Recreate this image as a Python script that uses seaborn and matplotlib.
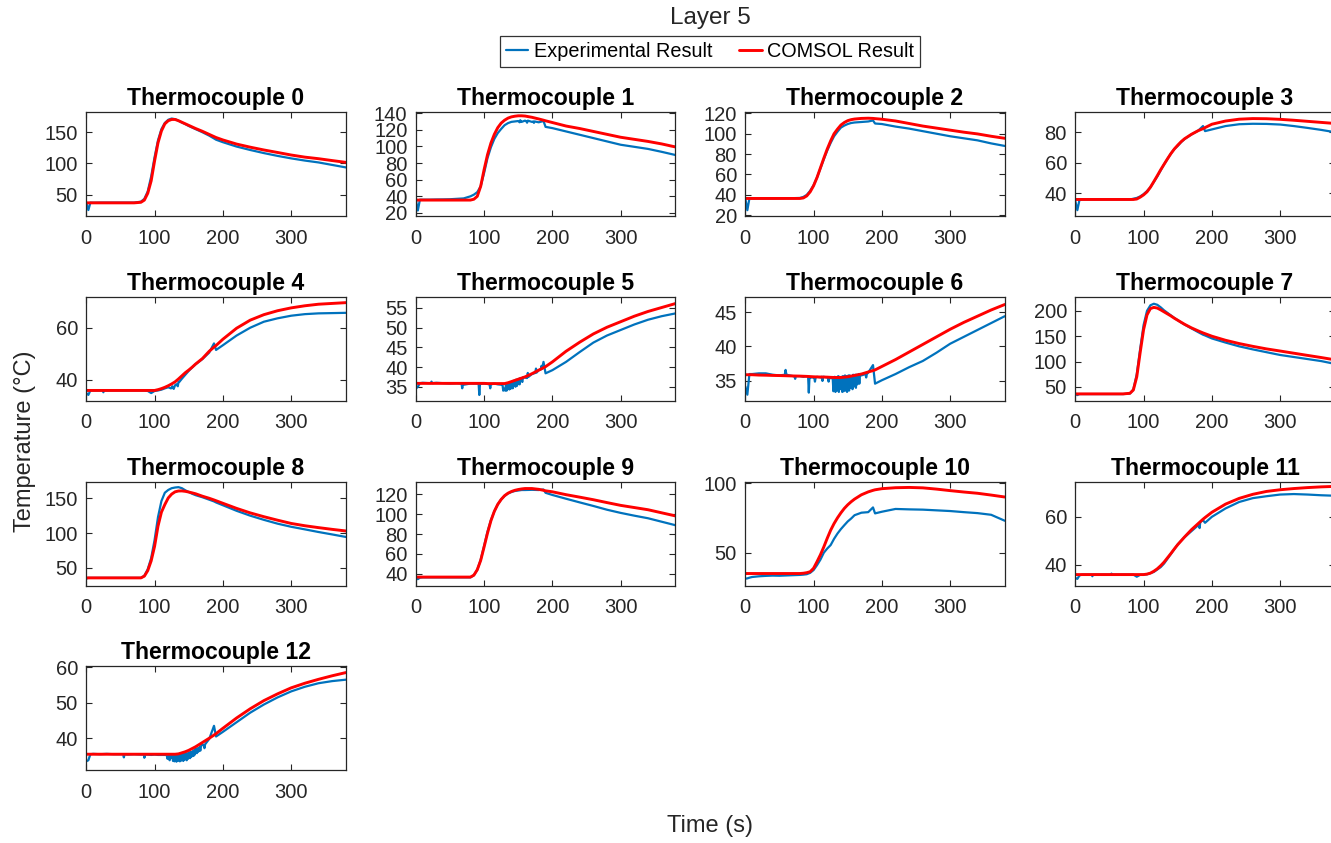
import numpy as np
import pandas as pd
import matplotlib
matplotlib.use("Agg")
import matplotlib.pyplot as plt
from matplotlib.ticker import MultipleLocator, FixedLocator
from matplotlib.lines import Line2D
import seaborn as sns

# Sample times (s) shared by every thermocouple record
time_s = [0, 3, 6, 10, 20, 30, 40, 50, 60, 70, 80, 85, 90, 95, 100, 105, 110, 115,
          120, 125, 130, 135, 140, 145, 150, 155, 160, 170, 180, 187, 190, 200, 220,
          240, 260, 280, 300, 320, 340, 360, 380]

# Measured temperatures (degC)
exp_tc0 = [37, 25, 37, 36.8, 37, 37, 37, 37, 37, 37, 38.5, 43, 55, 79, 110, 137, 155, 165,
           170, 172, 171, 168.5, 165.5, 163, 160, 157.5, 155, 150, 144.5, 140, 138, 134, 127,
           121.5, 116.5, 112, 108, 104.5, 101.5, 97.5, 93.5]
exp_tc1 = [36, 23, 36, 36, 36, 36.2, 36.3, 36.5, 37, 37.5, 40, 42, 45, 52, 68, 86, 99, 109,
           116, 121, 125.5, 128, 129.5, 130, 130.5, 129.5, 131, 129.5, 129, 130.5, 123.5, 122,
           118, 114, 110, 106, 102, 99.5, 97, 93.5, 89.7]
exp_tc2 = [36.5, 25, 36.5, 36.5, 36.5, 36.5, 36.5, 36.6, 36.7, 36.8, 37, 38, 40, 44, 49.5,
           57, 66, 75, 83.5, 91, 97.5, 102, 106, 108, 109.5, 110.5, 111, 111.5, 112, 113, 110,
           109.5, 107, 105, 102.5, 100, 97.5, 95.5, 93.5, 90.5, 88]
exp_tc3 = [35, 29, 35.5, 36, 36, 36, 36, 36, 36, 36, 36, 36.5, 37, 38, 39.5, 41.5, 44, 47.5,
           51, 55, 59, 62.5, 66, 69, 71, 73.5, 75.5, 78.5, 81, 84, 80.7, 81.8, 84, 85.2, 85.5,
           85.4, 85, 84, 82.8, 81.5, 80]
exp_tc4 = [35, 34.3, 36, 36, 36, 36, 36, 36, 36, 36, 36, 36, 35.8, 35, 35.8, 36, 36.3, 36.8,
           37.2, 37, 38, 39.3, 40.5, 42, 43.5, 44.8, 46, 48, 50.5, 54, 51.5, 53.3, 57, 60,
           62.3, 63.6, 64.6, 65.2, 65.5, 65.6, 65.7]
exp_tc5 = [34.5, 35, 35.9, 36, 35.9, 36, 35.9, 35.8, 35.9, 35.5, 35.8, 35.8, 35.8, 35.7,
           35.8, 35.7, 35.6, 35.8, 35.6, 35.5, 34.5, 35, 35.5, 36, 36.3, 36.6, 37.3, 38.2,
           39.2, 41.3, 38.4, 39.2, 41.3, 43.8, 46.2, 48, 49.4, 50.8, 52, 52.9, 53.6]
exp_tc6 = [34.2, 33, 36, 36, 36.1, 36.1, 35.9, 35.8, 36, 35.7, 35.7, 35.6, 35.7, 35.5, 35.5,
           35.6, 35.5, 35.6, 35.5, 35.4, 34.5, 34, 35, 34.5, 35, 34.5, 35.3, 35.8, 36.2, 37.3,
           34.6, 35.1, 36, 37, 37.9, 39.1, 40.4, 41.4, 42.4, 43.4, 44.4]
exp_tc7 = [36, 34, 36, 36, 36, 36, 36, 36, 36, 36, 37, 45, 75, 125, 172, 200, 211, 214, 212,
           207, 201, 196, 191, 186, 181.5, 177, 173, 165.5, 158, 153, 151.5, 145.6, 137.5,
           130, 124, 118.5, 113, 109, 105, 101, 95.5]
exp_tc8 = [34.5, 35.5, 35.5, 35.5, 35.5, 35.5, 35.5, 35.5, 35.5, 35.5, 35.5, 38.5, 48, 64,
           90, 123, 146, 158, 162, 164.5, 165.5, 166, 164.5, 161.5, 159, 156.5, 154.5, 151.5,
           148, 145.5, 144, 140, 132, 125, 119, 113.5, 109, 105.3, 101.5, 98, 94.4]
exp_tc9 = [35, 34.5, 36, 36.3, 36.3, 36.3, 36.3, 36.3, 36.3, 36.3, 36.3, 38.5, 44, 54, 68,
           82.5, 94, 103, 110, 115, 118.5, 121, 122.5, 123.5, 124, 124.5, 124.5, 124.7, 124.5,
           125, 121.7, 119.5, 115.7, 112, 108.4, 104.6, 101.4, 98.6, 96, 92.5, 89]
exp_tc10 = [31.3, 31.5, 32, 32.5, 33, 33.3, 33.5, 33.4, 33.6, 33.8, 34, 34.2, 34.5, 35.5,
            37.5, 41, 45, 50, 53, 55.5, 60, 63.8, 67, 69.8, 72.5, 74.6, 77, 78.8, 79.2, 82.6,
            78.3, 79.5, 81.5, 81.2, 81, 80.5, 80, 79.2, 78.5, 77.3, 73]
exp_tc11 = [34.5, 34.1, 35.5, 35.9, 35.9, 35.9, 35.9, 35.9, 35.9, 35.9, 35.9, 35.9, 35, 35.8,
            35.9, 36, 36.5, 37, 38, 39, 40.5, 42.5, 44.5, 46.5, 48.5, 50, 51.5, 54, 56.5,
            58.6, 57.5, 60, 63.5, 66.2, 67.8, 68.6, 69.3, 69.5, 69.3, 69, 68.8]
exp_tc12 = [33.5, 33.8, 35.5, 35.6, 35.5, 35.6, 35.5, 35.5, 35.4, 35.5, 35.4, 35.4, 35.4,
            35.3, 35.4, 35.3, 35.3, 35.3, 35.2, 35, 34.5, 34.2, 34.8, 35, 35.5, 36, 37, 38.3,
            39.8, 43.5, 40.5, 41.8, 44.5, 47.2, 49.5, 51.5, 53.2, 54.5, 55.5, 56.1, 56.5]

# Short glitches in the measured records (extra samples between the regular ones)
glitch_t_tc1 = [152, 153, 154, 162, 163, 164, 172, 173, 174]
glitch_v_tc1 = [129, 131.5, 129.5, 130, 128.5, 131, 130, 128.3, 130]
glitch_t_tc4 = [24, 25, 26, 124, 126, 128, 132, 134, 136]
glitch_v_tc4 = [36, 35.3, 36, 36.8, 37.6, 36.6, 38.4, 37.6, 39.2]
glitch_t_tc5 = [22, 23, 24, 67, 68, 69, 92, 93, 94, 108, 109, 110, 127, 128, 129, 131, 132,
                133, 134, 137, 138, 139, 141, 142, 143, 146, 147, 148, 151, 152, 153, 156,
                157, 163, 164, 165, 175, 176, 177, 183, 184, 185]
glitch_v_tc5 = [35.9, 36.3, 35.9, 35.8, 34.6, 35.8, 35.7, 32.9, 35.7, 35.6, 34.6, 35.6, 35.5,
                34, 34.2, 34, 35.6, 34, 35.8, 34.3, 36, 34.5, 36.2, 34.6, 36.5, 35, 36.8,
                35.2, 37, 35.6, 37.2, 36.2, 37.4, 37.2, 38.5, 37.5, 38.5, 39.6, 38.6, 39.4,
                40.3, 39.6]
glitch_t_tc6 = [58, 59, 60, 72, 73, 74, 92, 93, 94, 101, 102, 103, 112, 113, 114, 121, 122,
                123, 128, 129, 131, 132, 133, 134, 136, 137, 138, 139, 141, 142, 143, 144,
                146, 147, 148, 149, 151, 152, 153, 154, 156, 157, 158, 159, 161, 162, 163,
                164, 166, 167, 168, 176, 177, 178]
glitch_v_tc6 = [35.9, 36.6, 35.9, 35.7, 35.3, 35.7, 35.6, 33.3, 35.6, 35.5, 34.9, 35.5, 35.6,
                35, 35.6, 35.5, 34.9, 35.5, 35.4, 33.5, 35.6, 33.4, 35.5, 33.6, 35.7, 33.4,
                35.6, 33.8, 35.6, 33.4, 35.7, 33.5, 35.8, 33.6, 35.7, 33.4, 35.8, 33.6, 35.8,
                34, 35.7, 33.8, 35.9, 34.2, 35.9, 34, 35.9, 34.5, 36, 34.6, 36, 36, 35.5, 36]
glitch_t_tc11 = [24, 25, 26, 52, 53, 54, 181, 182, 183]
glitch_v_tc11 = [35.9, 35.2, 35.9, 35.9, 36.3, 35.9, 57, 55.3, 57.8]
glitch_t_tc12 = [54, 55, 56, 84, 85, 86, 118, 119, 121, 122, 123, 124, 126, 127, 128, 129,
                 131, 132, 133, 134, 136, 137, 138, 139, 141, 142, 143, 144, 146, 147, 148,
                 149, 151, 152, 153, 154, 156, 157, 158, 159, 161, 162, 163, 164, 166, 167,
                 168, 172, 173, 174]
glitch_v_tc12 = [35.5, 34.6, 35.5, 35.4, 34.5, 35.4, 35.2, 34.2, 35.2, 33.8, 35.2, 34.4,
                 35.1, 33.6, 35.2, 33.5, 35.3, 33.4, 35.2, 33.6, 35.3, 33.5, 35.4, 33.7,
                 35.5, 33.6, 35.6, 34, 35.7, 33.8, 35.8, 34.2, 36, 34.4, 36.2, 34.8, 36.4,
                 35, 36.7, 35.4, 37, 35.8, 37.2, 36.2, 37.5, 36.5, 37.8, 38, 37.2, 38.3]

# COMSOL simulation temperatures (degC)
sim_tc0 = [36.6, 36.6, 36.6, 36.6, 36.6, 36.6, 36.6, 36.6, 36.6, 36.6, 37.5, 41, 52, 72, 104,
           133, 152, 163.5, 168.5, 170.5, 170.5, 168.5, 166, 163.5, 161, 158.5, 156, 151.5,
           146.5, 143, 141.5, 137.6, 131, 126, 121.5, 117.5, 113.4, 110, 107.5, 104.5, 101.6]
sim_tc1 = [35.5, 35.5, 35.5, 35.5, 35.5, 35.5, 35.5, 35.5, 35.5, 35.5, 35.5, 36.5, 40, 52,
           72, 90, 104, 114.5, 122.5, 128, 131.5, 134, 135.5, 136.3, 136.8, 136.8, 136.5,
           135, 133, 131.5, 130.8, 128.7, 124.5, 121.5, 118, 114.5, 111, 108.5, 106, 103, 99.4]
sim_tc2 = [36.5, 36.5, 36.5, 36.5, 36.5, 36.5, 36.5, 36.5, 36.5, 36.5, 36.5, 37, 39, 43, 49,
           57, 66.5, 76, 85, 93, 100, 104.5, 108.5, 111, 112.8, 113.8, 114.4, 115, 115.2, 115,
           114.8, 114.2, 112.5, 110, 107.5, 105.5, 103.5, 101.5, 99.8, 97.5, 95.5]
sim_tc3 = [36, 36, 36, 36, 36, 36, 36, 36, 36, 36, 36, 36, 36.3, 37.5, 39, 41, 44, 47.7, 51.5,
           55.4, 59, 62.6, 66, 69, 71.5, 73.8, 75.7, 78.6, 81, 82.3, 83, 85.2, 87.3, 88.5,
           88.9, 88.8, 88.4, 87.8, 87.1, 86.4, 85.7]
sim_tc4 = [36, 36, 36, 36, 36, 36, 36, 36, 36, 36, 36, 36, 36, 36, 36, 36.3, 36.7, 37.2, 37.8,
           38.5, 39.3, 40.4, 41.6, 42.8, 43.8, 44.9, 46.1, 48.2, 51, 52.6, 53.2, 55.6, 59.8,
           62.9, 65, 66.5, 67.6, 68.4, 69, 69.3, 69.6]
sim_tc5 = [35.85, 35.85, 35.85, 35.85, 35.85, 35.85, 35.85, 35.85, 35.85, 35.85, 35.85,
           35.85, 35.85, 35.85, 35.85, 35.8, 35.8, 35.8, 35.8, 35.8, 35.8, 36, 36.3, 36.6,
           36.9, 37.2, 37.5, 38.3, 39.2, 39.8, 40.1, 41.3, 44, 46.3, 48.4, 50.1, 51.5, 52.9,
           54.1, 55.1, 56.1]
sim_tc6 = [35.9, 35.9, 35.9, 35.9, 35.85, 35.83, 35.8, 35.78, 35.75, 35.72, 35.7, 35.68,
           35.66, 35.63, 35.6, 35.58, 35.57, 35.56, 35.55, 35.52, 35.5, 35.5, 35.5, 35.55,
           35.6, 35.7, 35.8, 36, 36.3, 36.5, 36.6, 37.1, 38.1, 39.2, 40.3, 41.4, 42.5, 43.5,
           44.4, 45.3, 46.1]
sim_tc7 = [36.3, 36.3, 36.3, 36.3, 36.3, 36.3, 36.3, 36.3, 36.3, 36.3, 37.5, 44, 70, 118, 163,
           192, 204.5, 206.8, 205.5, 202, 198, 194, 190, 185.5, 181.5, 177.5, 173.5, 166.5,
           160.5, 156.5, 155, 150, 142, 135.5, 130, 125, 120.8, 116.5, 112.2, 108, 103.5]
sim_tc8 = [35.5, 35.5, 35.5, 35.5, 35.5, 35.5, 35.5, 35.5, 35.5, 35.5, 35.5, 38, 46, 60, 81,
           110, 130, 141, 150.5, 156, 159.3, 160.5, 160.6, 160, 159, 157.8, 156.5, 153, 150,
           147.6, 146.5, 142.8, 135.5, 129, 123.5, 118.5, 113.8, 110.5, 107.8, 105.3, 103]
sim_tc9 = [36.6, 36.6, 36.6, 36.6, 36.6, 36.6, 36.6, 36.6, 36.6, 36.6, 36.6, 38.5, 44, 53.4,
           67, 81, 93.5, 103, 110, 115, 118.8, 121.3, 123, 124.2, 125, 125.6, 126, 126, 125.2,
           124.2, 123.7, 122.7, 119.8, 117.3, 114.7, 111.8, 109, 106.8, 104.6, 101.5, 98.4]
sim_tc10 = [35, 35, 35, 35, 35, 35, 35, 35, 35, 35, 35, 35.2, 35.6, 36.3, 38.8, 43.5, 48.5,
            54.2, 60.4, 66.2, 71, 75.1, 78.7, 81.9, 84.5, 86.7, 88.6, 91.7, 93.8, 94.9, 95.3,
            96.1, 96.8, 97, 96.7, 95.8, 94.7, 93.7, 92.8, 91.5, 90.1]
sim_tc11 = [35.9, 35.9, 35.9, 35.9, 35.9, 35.9, 35.9, 35.9, 35.9, 35.9, 35.9, 35.9, 35.9,
            35.9, 35.9, 36.1, 36.5, 37.3, 38.3, 39.6, 41.1, 42.9, 44.7, 46.6, 48.4, 50, 51.6,
            54.6, 57.2, 59, 59.7, 61.9, 65.3, 67.7, 69.4, 70.6, 71.3, 71.8, 72.2, 72.5, 72.7]
sim_tc12 = [35.5, 35.5, 35.5, 35.5, 35.5, 35.5, 35.5, 35.5, 35.5, 35.5, 35.5, 35.5, 35.5,
            35.5, 35.5, 35.5, 35.5, 35.5, 35.5, 35.5, 35.5, 35.6, 35.9, 36.2, 36.6, 37.1,
            37.6, 38.8, 40, 40.9, 41.3, 42.8, 45.7, 48.3, 50.6, 52.5, 54.2, 55.5, 56.6, 57.6,
            58.5]

panel_titles = [f"Thermocouple {i}" for i in range(13)]
exp_series = [exp_tc0, exp_tc1, exp_tc2, exp_tc3, exp_tc4, exp_tc5, exp_tc6, exp_tc7,
              exp_tc8, exp_tc9, exp_tc10, exp_tc11, exp_tc12]
sim_series = [sim_tc0, sim_tc1, sim_tc2, sim_tc3, sim_tc4, sim_tc5, sim_tc6, sim_tc7,
              sim_tc8, sim_tc9, sim_tc10, sim_tc11, sim_tc12]
glitches = {1: (glitch_t_tc1, glitch_v_tc1), 4: (glitch_t_tc4, glitch_v_tc4),
            5: (glitch_t_tc5, glitch_v_tc5), 6: (glitch_t_tc6, glitch_v_tc6),
            11: (glitch_t_tc11, glitch_v_tc11), 12: (glitch_t_tc12, glitch_v_tc12)}

# Axis ranges and tick spacing for each panel
y_limits = [(15, 182), (16, 141), (19, 121), (25, 93), (32, 71.8), (31.4, 57.8),
            (32.1, 47.2), (22.5, 227.5), (24.4, 174), (28, 133), (26.3, 101.2),
            (31.3, 74.7), (31, 60.3)]
y_steps = [50, 20, 20, 20, 20, 5, 5, 50, 50, 20, 50, 20, 10]
x_ticks = [0, 100, 200, 300]

# ---- styling ----
sns.set_theme(style="white")
plt.rcParams["font.family"] = ["Liberation Sans", "DejaVu Sans"]
INK = "#262626"
BLUE = "#0072BD"
RED = "#FF0000"

W, H, DPI = 1331, 843, 100
fig = plt.figure(figsize=(W / DPI, H / DPI), dpi=DPI)
fig.patch.set_facecolor("white")

col_left = [86.3, 415.8, 745.3, 1075.3]
row_top = [112.3, 296.9, 481.6, 666.2]
ax_w, ax_h = 259.5, 104.0

for k in range(13):
    r, c = divmod(k, 4)
    rect = [col_left[c] / W, 1 - (row_top[r] + ax_h) / H, ax_w / W, ax_h / H]
    ax = fig.add_axes(rect)

    t_exp = np.asarray(time_s, dtype=float)
    v_exp = np.asarray(exp_series[k], dtype=float)
    if k in glitches:
        gt, gv = glitches[k]
        t_exp = np.concatenate([t_exp, gt])
        v_exp = np.concatenate([v_exp, gv])
        order = np.argsort(t_exp, kind="stable")
        t_exp, v_exp = t_exp[order], v_exp[order]
    df_exp = pd.DataFrame({"time": t_exp, "temp": v_exp})
    df_sim = pd.DataFrame({"time": time_s, "temp": sim_series[k]})

    sns.lineplot(data=df_exp, x="time", y="temp", ax=ax, color=BLUE, linewidth=1.6,
                 estimator=None, sort=False)
    sns.lineplot(data=df_sim, x="time", y="temp", ax=ax, color=RED, linewidth=2.1,
                 estimator=None, sort=False)

    ax.set_xlim(0, 380)
    ax.set_ylim(*y_limits[k])
    ax.xaxis.set_major_locator(FixedLocator(x_ticks))
    ax.yaxis.set_major_locator(MultipleLocator(y_steps[k]))
    ax.set_xlabel("")
    ax.set_ylabel("")
    ax.set_title(panel_titles[k], fontsize=16.6, fontweight="bold", color="black", pad=5)
    ax.tick_params(axis="both", which="major", direction="in", length=4, width=0.8,
                   colors=INK, labelsize=14.5, top=True, right=True, bottom=True, left=True)
    ax.tick_params(axis="x", pad=9)
    ax.tick_params(axis="y", pad=6)
    for sp in ax.spines.values():
        sp.set_visible(True)
        sp.set_color(INK)
        sp.set_linewidth(0.9)

fig.text(710 / W, 1 - 18 / H, "Layer 5", ha="center", va="center", fontsize=17.5,
         color=INK)
fig.text(710 / W, 1 - 826 / H, "Time (s)", ha="center", va="center", fontsize=17,
         color=INK)
fig.text(25 / W, 1 - 441 / H, "Temperature (°C)", ha="center", va="center",
         rotation=90, fontsize=17, color=INK)

handles = [Line2D([], [], color=BLUE, linewidth=1.6),
           Line2D([], [], color=RED, linewidth=2.1)]
leg = fig.legend(handles, ["Experimental Result", "COMSOL Result"], loc="center",
                 bbox_to_anchor=(710 / W, 1 - 51.5 / H), ncol=2, frameon=True,
                 fancybox=False, edgecolor="black", fontsize=14.3, handlelength=1.15,
                 handletextpad=0.3, columnspacing=1.3, borderpad=0.28,
                 borderaxespad=0.0)
leg.get_frame().set_linewidth(0.9)
for txt in leg.get_texts():
    txt.set_color("black")

fig.savefig("out.png", dpi=DPI, facecolor="white")
